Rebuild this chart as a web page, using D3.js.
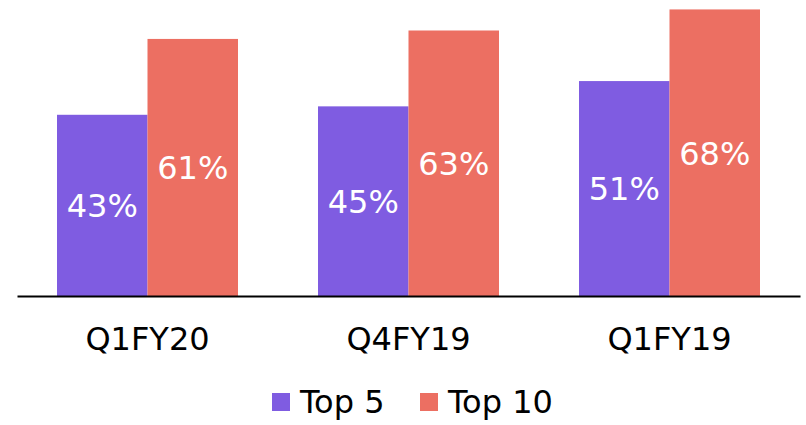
<!DOCTYPE html>
<html>
<head>
<meta charset="utf-8">
<script src="https://cdn.jsdelivr.net/npm/d3@7"></script>
<style>
  body { margin: 0; background: #fff; }
  svg { display: block; font-family: "DejaVu Sans", Verdana, sans-serif; }
</style>
</head>
<body>
<svg id="chart" width="806" height="425"></svg>
<script>
const categories = ["Q1FY20", "Q4FY19", "Q1FY19"];
const seriesNames = ["Top 5", "Top 10"];
const top5 = [43, 45, 51];
const top10 = [61, 63, 68];
const colors = ["#7F5CE1", "#EC6F62"];

const svg = d3.select("#chart");
const baseline = 296;

const x = d3.scaleBand().domain(categories).range([17, 800]).padding(0);
const xInner = d3.scaleBand().domain(seriesNames).range([0, 181]);
const y = d3.scaleLinear().domain([0, 70]).range([baseline, 1]);

const rows = categories.map((c, i) => ({ cat: c, values: [top5[i], top10[i]] }));

// bars
const groups = svg.append("g").selectAll("g")
  .data(rows)
  .join("g")
  .attr("transform", d => `translate(${x(d.cat) + (x.bandwidth() - 181) / 2},0)`);

const bars = groups.selectAll("g")
  .data(d => d.values.map((v, j) => ({ name: seriesNames[j], v, j })))
  .join("g");

bars.append("rect")
  .attr("x", d => xInner(d.name))
  .attr("y", d => y(d.v))
  .attr("width", xInner.bandwidth())
  .attr("height", d => baseline - y(d.v))
  .attr("fill", d => colors[d.j]);

bars.append("text")
  .attr("x", d => xInner(d.name) + xInner.bandwidth() / 2)
  .attr("y", d => (y(d.v) + baseline) / 2)
  .attr("dy", "0.37em")
  .attr("text-anchor", "middle")
  .attr("fill", "#fff")
  .attr("font-size", 32)
  .text(d => d.v + "%");

// axis
const xAxis = svg.append("g")
  .attr("transform", `translate(0,${baseline})`)
  .call(d3.axisBottom(x).tickSize(0));
xAxis.select(".domain").attr("stroke", "#000").attr("stroke-width", 2);
xAxis.selectAll("text")
  .attr("y", 54)
  .attr("dy", 0)
  .attr("font-size", 32)
  .attr("font-family", "DejaVu Sans, Verdana, sans-serif")
  .attr("fill", "#000");

// legend
const legend = svg.append("g").selectAll("g")
  .data(seriesNames)
  .join("g")
  .attr("transform", (d, i) => `translate(${[272, 420][i]},393)`);
legend.append("rect").attr("width", 18).attr("height", 18).attr("fill", (d, i) => colors[i]);
legend.append("text")
  .attr("x", 28)
  .attr("y", 20)
  .attr("font-size", 32)
  .attr("fill", "#000")
  .text(d => d);
</script>
</body>
</html>
